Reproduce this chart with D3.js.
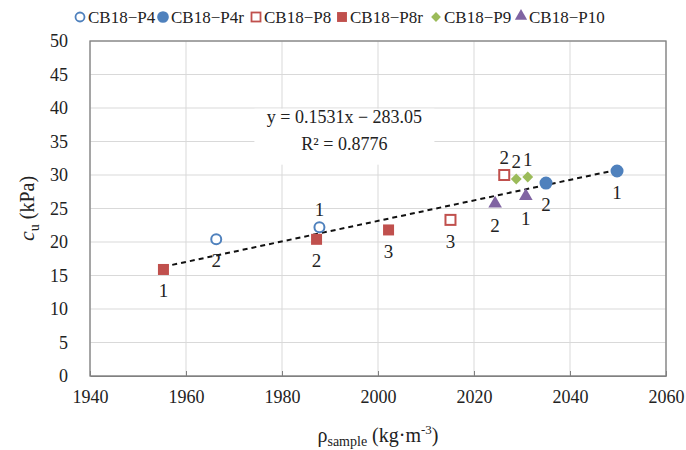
<!DOCTYPE html>
<html>
<head>
<meta charset="utf-8">
<script src="https://cdn.jsdelivr.net/npm/d3@7"></script>
<style>
  body { margin: 0; background: #fff; }
</style>
</head>
<body>
<div id="chart"></div>
<script>
// series names, values
const seriesNames = ["CB18−P4", "CB18−P4r", "CB18−P8", "CB18−P8r", "CB18−P9", "CB18−P10"];
const p4x = [1966.3, 1987.8], p4y = [20.4, 22.2], p4lab = ["2", "1"];
const p4rx = [2035.0, 2049.8], p4ry = [28.8, 30.6], p4rlab = ["2", "1"];
const p8x = [2015.1, 2026.3], p8y = [23.3, 30.0], p8lab = ["3", "2"];
const p8rx = [1955.3, 1987.2, 2002.2], p8ry = [15.9, 20.4, 21.8], p8rlab = ["1", "2", "3"];
const p9x = [2028.8, 2031.2], p9y = [29.4, 29.7], p9lab = ["2", "1"];
const p10x = [2024.4, 2030.8], p10y = [25.6, 26.7], p10lab = ["2", "1"];
const xTicks = [1940, 1960, 1980, 2000, 2020, 2040, 2060];
const yTicks = [0, 5, 10, 15, 20, 25, 30, 35, 40, 45, 50];
const slope = 0.1531, intercept = -283.05, r2 = 0.8776;

const FONT = '"Liberation Serif"';
const width = 686, height = 450;
const margin = {top: 41, right: 20, bottom: 74, left: 90};

// label placement: true = above point
const labelAbove = {
  "CB18−P4": [false, true], "CB18−P4r": [false, false], "CB18−P8": [false, true],
  "CB18−P8r": [false, false, false], "CB18−P9": [true, true], "CB18−P10": [false, false]
};

const series = [
  {name: seriesNames[0], xs: p4x, ys: p4y, labs: p4lab, color: "#4f81bd", shape: "circle", fill: false},
  {name: seriesNames[1], xs: p4rx, ys: p4ry, labs: p4rlab, color: "#4f81bd", shape: "circle", fill: true},
  {name: seriesNames[2], xs: p8x, ys: p8y, labs: p8lab, color: "#c0504d", shape: "square", fill: false},
  {name: seriesNames[3], xs: p8rx, ys: p8ry, labs: p8rlab, color: "#c0504d", shape: "square", fill: true},
  {name: seriesNames[4], xs: p9x, ys: p9y, labs: p9lab, color: "#9bbb59", shape: "diamond", fill: true},
  {name: seriesNames[5], xs: p10x, ys: p10y, labs: p10lab, color: "#8064a2", shape: "triangle", fill: true}
];

const x = d3.scaleLinear().domain([1940, 2060]).range([margin.left, width - margin.right]);
const y = d3.scaleLinear().domain([0, 50]).range([height - margin.bottom, margin.top]);

const svg = d3.select("#chart").append("svg")
  .attr("width", width).attr("height", height)
  .style("font-family", FONT);

// gridlines
svg.append("g").selectAll("line").data(yTicks).enter().append("line")
  .attr("x1", x(1940)).attr("x2", x(2060))
  .attr("y1", d => y(d)).attr("y2", d => y(d))
  .attr("stroke", "#d9d9d9").attr("stroke-width", 1);
svg.append("g").selectAll("line").data(xTicks).enter().append("line")
  .attr("y1", y(0)).attr("y2", y(50))
  .attr("x1", d => x(d)).attr("x2", d => x(d))
  .attr("stroke", "#d9d9d9").attr("stroke-width", 1);

// frame
svg.append("rect")
  .attr("x", x(1940)).attr("y", y(50))
  .attr("width", x(2060) - x(1940)).attr("height", y(0) - y(50))
  .attr("fill", "none").attr("stroke", "#808080").attr("stroke-width", 1.3);

// x axis
const xAxis = svg.append("g")
  .attr("transform", `translate(0,${y(0)})`)
  .call(d3.axisBottom(x).tickValues(xTicks).tickFormat(d3.format("d")).tickSizeInner(-5).tickSizeOuter(0).tickPadding(14));
xAxis.attr("font-family", null);
xAxis.select(".domain").attr("stroke", "#808080");
xAxis.selectAll(".tick line").attr("stroke", "#808080");
xAxis.selectAll("text").style("font-family", FONT).attr("font-size", "18px").attr("fill", "#222");

// y axis
const yAxis = svg.append("g")
  .attr("transform", `translate(${x(1940)},0)`)
  .call(d3.axisLeft(y).tickValues(yTicks).tickSize(0).tickPadding(22));
yAxis.attr("font-family", null);
yAxis.select(".domain").remove();
yAxis.selectAll("text").style("font-family", FONT).attr("font-size", "18px").attr("fill", "#222");

// trendline
const xs = series.flatMap(s => s.xs);
const xmin = d3.min(xs), xmax = d3.max(xs);
svg.append("line")
  .attr("x1", x(xmin)).attr("y1", y(slope * xmin + intercept))
  .attr("x2", x(xmax)).attr("y2", y(slope * xmax + intercept))
  .attr("stroke", "#111").attr("stroke-width", 2).attr("stroke-dasharray", "5,4");

// equation box
const eq = svg.append("g").attr("transform", `translate(${x(1993)},0)`);
eq.append("rect").attr("x", -90).attr("y", y(39.9)).attr("width", 180).attr("height", 56).attr("fill", "#fff");
eq.append("text").attr("y", y(37.7)).attr("text-anchor", "middle").attr("font-size", "18px").attr("fill", "#222")
  .text(`y = ${slope}x − ${Math.abs(intercept).toFixed(2)}`);
eq.append("text").attr("y", y(33.8)).attr("text-anchor", "middle").attr("font-size", "18px").attr("fill", "#222")
  .text(`R² = ${r2}`);

// marker generator
function drawMarker(g, s) {
  const fill = s.fill ? s.color : "#fff";
  if (s.shape === "circle") {
    g.append("circle").attr("r", s.fill ? 5.5 : 5).attr("fill", fill)
      .attr("stroke", s.color).attr("stroke-width", 2);
  } else if (s.shape === "square") {
    const a = s.fill ? 11 : 10;
    g.append("rect").attr("x", -a / 2).attr("y", -a / 2).attr("width", a).attr("height", a)
      .attr("fill", fill).attr("stroke", s.color).attr("stroke-width", s.fill ? 0 : 2);
  } else if (s.shape === "diamond") {
    g.append("path").attr("d", d3.symbol(d3.symbolDiamond2, 75)()).attr("fill", fill);
  } else {
    g.append("path").attr("d", d3.symbol(d3.symbolTriangle, 80)()).attr("fill", fill)
      .attr("transform", "translate(0,-1)");
  }
}

// points + labels
series.forEach(s => {
  s.xs.forEach((xv, i) => {
    const g = svg.append("g").attr("transform", `translate(${x(xv)},${y(s.ys[i])})`);
    drawMarker(g, s);
    const above = labelAbove[s.name][i];
    svg.append("text")
      .attr("x", x(xv)).attr("y", y(s.ys[i]) + (above ? -11 : 28))
      .attr("text-anchor", "middle").attr("font-size", "19px").attr("fill", "#222")
      .text(s.labs[i]);
  });
});

// legend
const legendX = [80, 163, 256, 342, 436, 521];
const legend = svg.append("g").attr("transform", "translate(0,17)");
series.forEach((s, i) => {
  const g = legend.append("g").attr("transform", `translate(${legendX[i]},0)`);
  const m = g.append("g");
  drawMarker(m, s);
  m.attr("transform", "scale(0.9)");
  g.append("text").attr("x", 8).attr("y", 6).attr("font-size", "17px").attr("fill", "#222").text(s.name);
});

// axis titles
const yl = svg.append("text")
  .attr("transform", `translate(34,${(y(0) + y(50)) / 2}) rotate(-90)`)
  .attr("text-anchor", "middle").attr("font-size", "20px").attr("fill", "#222");
yl.append("tspan").attr("font-style", "italic").attr("font-size", "22px").text("c");
yl.append("tspan").attr("font-size", "14px").attr("dy", 5).text("u");
yl.append("tspan").attr("dy", -5).text(" (kPa)");

const xl = svg.append("text")
  .attr("x", (x(1940) + x(2060)) / 2).attr("y", 442)
  .attr("text-anchor", "middle").attr("font-size", "20px").attr("fill", "#222");
xl.append("tspan").text("ρ");
xl.append("tspan").attr("font-size", "14px").attr("dy", 4).text("sample");
xl.append("tspan").attr("dy", -4).text(" (kg·m");
xl.append("tspan").attr("font-size", "13px").attr("dy", -8).text("-3");
xl.append("tspan").attr("dy", 8).text(")");
</script>
</body>
</html>
